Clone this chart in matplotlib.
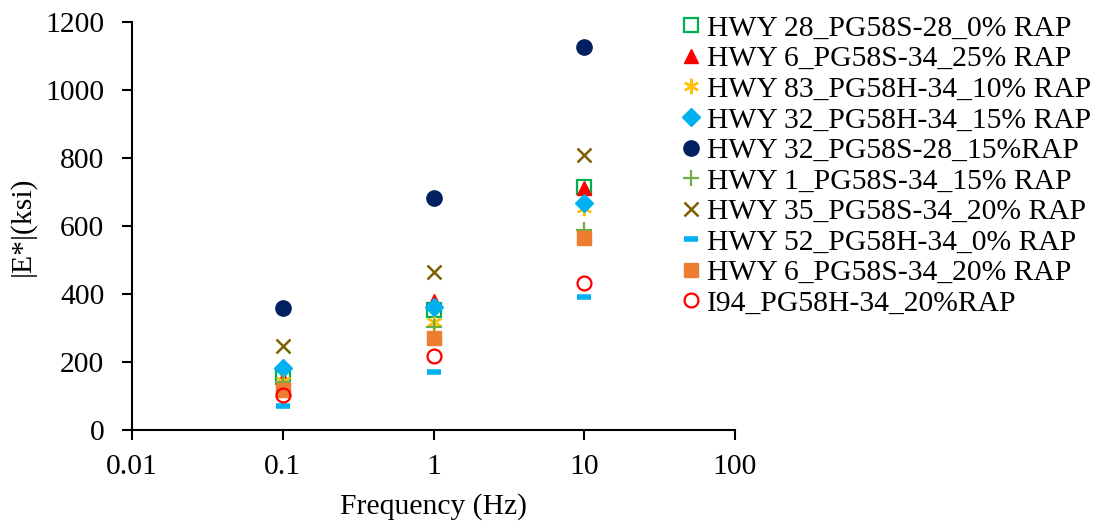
"""Dynamic modulus |E*| versus loading frequency for the asphalt mixes."""

import matplotlib
import matplotlib.pyplot as plt

matplotlib.use("Agg")

plt.rcParams["font.family"] = ["Liberation Serif", "DejaVu Serif"]

frequency = [0.1, 1, 10]

labels = [
    "HWY 28_PG58S-28_0% RAP",
    "HWY 6_PG58S-34_25% RAP",
    "HWY 83_PG58H-34_10% RAP",
    "HWY 32_PG58H-34_15% RAP",
    "HWY 32_PG58S-28_15%RAP",
    "HWY 1_PG58S-34_15% RAP",
    "HWY 35_PG58S-34_20% RAP",
    "HWY 52_PG58H-34_0% RAP",
    "HWY 6_PG58S-34_20% RAP",
    "I94_PG58H-34_20%RAP",
]

hwy28_0 = [155, 353, 715]
hwy6_25 = [150, 378, 712]
hwy83_10 = [145, 318, 653]
hwy32_h15 = [182, 362, 668]
hwy32_s15 = [359, 682, 1126]
hwy1_15 = [140, 303, 587]
hwy35_20 = [247, 465, 809]
hwy52_0 = [71, 171, 391]
hwy6_20 = [118, 271, 565]
i94_20 = [103, 218, 432]

series = [hwy28_0, hwy6_25, hwy83_10, hwy32_h15, hwy32_s15,
          hwy1_15, hwy35_20, hwy52_0, hwy6_20, i94_20]

styles = [
    dict(marker="s", mfc="none", mec="#00B050", ms=10, mew=1.6),
    dict(marker="^", mfc="#FF0000", mec="#FF0000", ms=10),
    dict(marker=(6, 2, 0), mfc="#FFC000", mec="#FFC000", ms=11, mew=1.6),
    dict(marker="D", mfc="#00B0F0", mec="#00B0F0", ms=9.5),
    dict(marker="o", mfc="#002060", mec="#002060", ms=11),
    dict(marker="+", mfc="#70AD47", mec="#70AD47", ms=11, mew=1.6),
    dict(marker="x", mfc="#7F6000", mec="#7F6000", ms=10, mew=1.8),
    dict(marker="_", mfc="#00B0F0", mec="#00B0F0", ms=10.5, mew=4),
    dict(marker="s", mfc="#ED7D31", mec="#ED7D31", ms=10),
    dict(marker="o", mfc="none", mec="#FF0000", ms=10, mew=1.6),
]

font_size = 21.3

fig = plt.figure(figsize=(11.05, 5.25), dpi=100)
axis = fig.add_axes([0.1195, 0.181, 0.5457, 0.777])

for values, label, style in zip(series, labels, styles):
    axis.plot(frequency, values, linestyle="none", label=label, **style)

axis.set_xscale("log")
axis.set_xlim(0.01, 100)
axis.set_ylim(0, 1200)
axis.set_xticks([0.01, 0.1, 1, 10, 100])
axis.set_xticklabels(["0.01", "0.1", "1", "10", "100"])
axis.set_yticks(range(0, 1201, 200))
axis.minorticks_off()

for side in ("top", "right"):
    axis.spines[side].set_visible(False)
for side in ("left", "bottom"):
    axis.spines[side].set_linewidth(1.5)
axis.tick_params(labelsize=font_size, width=1.5, length=7)
axis.tick_params(axis="y", pad=13)
axis.tick_params(axis="x", pad=10)

axis.set_xlabel("Frequency (Hz)", fontsize=font_size, labelpad=10)
axis.set_ylabel("|E*|(ksi)", fontsize=font_size, labelpad=7)

fig.legend(
    loc="upper left",
    bbox_to_anchor=(0.6066, 0.994),
    frameon=False,
    fontsize=font_size,
    handlelength=0.6,
    handletextpad=0.25,
    labelspacing=0.13,
    borderaxespad=0.0,
)

fig.savefig("out.png", dpi=100)
plt.close(fig)
